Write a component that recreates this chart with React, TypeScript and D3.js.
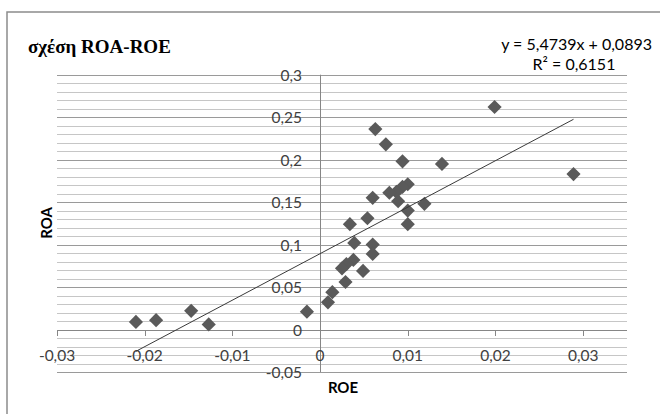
import React from "react";
import * as d3 from "d3";

// ROE / ROA pairs per firm
const roe = [
  0.0199, 0.0289, 0.0139, 0.0119, 0.0063, 0.0075, 0.0094, 0.0100, 0.0094, 0.0087,
  0.0079, 0.0089, 0.0060, 0.0100, 0.0100, 0.0054, 0.0034, 0.0039, 0.0060, 0.0060,
  0.0038, 0.0030, 0.0025, 0.0049, 0.0029, 0.0014, 0.0009, -0.0015, -0.0210, -0.0187,
  -0.0147, -0.0127,
];
const roa = [
  0.262, 0.183, 0.195, 0.148, 0.236, 0.218, 0.198, 0.171, 0.168, 0.162,
  0.161, 0.151, 0.155, 0.140, 0.124, 0.131, 0.124, 0.102, 0.100, 0.089,
  0.082, 0.077, 0.072, 0.069, 0.056, 0.044, 0.032, 0.021, 0.009, 0.011,
  0.022, 0.006,
];

// Linear trendline
const slope = 5.4739;
const intercept = 0.0893;
const rSquared = 0.6151;

const xTicks = [-0.03, -0.02, -0.01, 0, 0.01, 0.02, 0.03];
const yMajorTicks = [-0.05, 0, 0.05, 0.1, 0.15, 0.2, 0.25, 0.3];
const yMinorTicks = d3.range(-0.05, 0.3001, 0.01);

const title = "σχέση ROA-ROE";
const xTitle = "ROE";
const yTitle = "ROA";

const W = 660;
const H = 414;
const plot = { left: 57, right: 627, top: 74.7, bottom: 372 };

// decimal comma
const fmt = (v: number) => String(Math.round(v * 1000) / 1000).replace(".", ",");
const fmt4 = (v: number) => v.toFixed(4).replace(".", ",");

const sans = "Lato, 'Open Sans', sans-serif";

export default function App() {
  const x = d3.scaleLinear().domain([-0.03, 0.035]).range([plot.left, plot.right]);
  const y = d3.scaleLinear().domain([-0.05, 0.3]).range([plot.bottom, plot.top]);
  const py = (v: number) => Math.round(y(v)) + 0.5;
  const px = (v: number) => Math.round(x(v)) + 0.5;

  const [xMin, xMax] = d3.extent(roe) as [number, number];
  const trend = d3.line<number>()
    .x((v) => x(v))
    .y((v) => y(slope * v + intercept))([xMin, xMax]);

  const diamond = d3.symbol().type(d3.symbolDiamond2).size(128)();

  const eqRight = 652;
  const eqCenter = 574;

  return (
    <svg
      width={W}
      height={H}
      style={{ position: "absolute", left: 0, top: 0, background: "#fff" }}
      fontFamily={sans}
    >
      <rect x={0} y={0} width={W} height={H} fill="#fff" />
      {/* chart frame */}
      <rect x={7} y={12} width={W + 40} height={H + 40} fill="none" stroke="#8c8c8c" strokeWidth={1.5} />

      {/* minor gridlines */}
      {yMinorTicks.map((t, i) => (
        <line key={"mn" + i} x1={plot.left} x2={plot.right} y1={py(t)} y2={py(t)}
          stroke="#c6c6c6" strokeWidth={1} />
      ))}
      {/* major gridlines */}
      {yMajorTicks.map((t, i) => (
        <line key={"mj" + i} x1={plot.left} x2={plot.right} y1={py(t)} y2={py(t)}
          stroke="#9a9a9a" strokeWidth={1} />
      ))}

      {/* vertical axis at ROE = 0 */}
      <line x1={px(0)} x2={px(0)} y1={plot.top} y2={plot.bottom} stroke="#868686" />
      {/* horizontal axis at ROA = 0 */}
      <line x1={plot.left} x2={plot.right} y1={py(0)} y2={py(0)} stroke="#868686" />
      {xTicks.map((t, i) => (
        <line key={"xt" + i} x1={px(t)} x2={px(t)} y1={py(0)} y2={py(0) + 5.5} stroke="#868686" />
      ))}

      {/* y tick labels */}
      {yMajorTicks.map((t, i) => (
        <text key={"yl" + i} x={302} y={y(t)} textAnchor="end" dominantBaseline="central"
          fontSize={15.5} fill="#404040">{fmt(t)}</text>
      ))}
      {/* x tick labels */}
      {xTicks.map((t, i) => (
        <text key={"xl" + i} x={x(t)} y={y(0) + 25} textAnchor="middle" dominantBaseline="central"
          fontSize={15.5} fill="#404040">{fmt(t)}</text>
      ))}

      {/* points */}
      {roe.map((v, i) => (
        <path key={"p" + i} d={diamond || ""} transform={`translate(${x(v)},${y(roa[i])})`} fill="#5a5a5a" />
      ))}

      {/* trendline */}
      <path d={trend || ""} fill="none" stroke="#3a3a3a" strokeWidth={1} />

      {/* titles */}
      <text x={28} y={46} dominantBaseline="central" fontFamily="'Liberation Serif', serif" fontWeight="bold"
        fontSize={19} fill="#000">{title}</text>
      <text x={46} y={223} transform="rotate(-90 46 223)" textAnchor="middle" dominantBaseline="central"
        fontWeight="bold" fontSize={15} fill="#000">{yTitle}</text>
      <text x={343} y={387} textAnchor="middle" dominantBaseline="central"
        fontWeight="bold" fontSize={15} fill="#000">{xTitle}</text>

      {/* trendline equation */}
      <text x={eqRight} y={43} textAnchor="end" dominantBaseline="central" fontSize={16} fill="#000">
        {`y = ${fmt4(slope)}x + ${fmt4(intercept)}`}
      </text>
      <text x={eqCenter} y={63} textAnchor="middle" dominantBaseline="central" fontSize={16} fill="#000">
        {`R² = ${fmt4(rSquared)}`}
      </text>
    </svg>
  );
}
